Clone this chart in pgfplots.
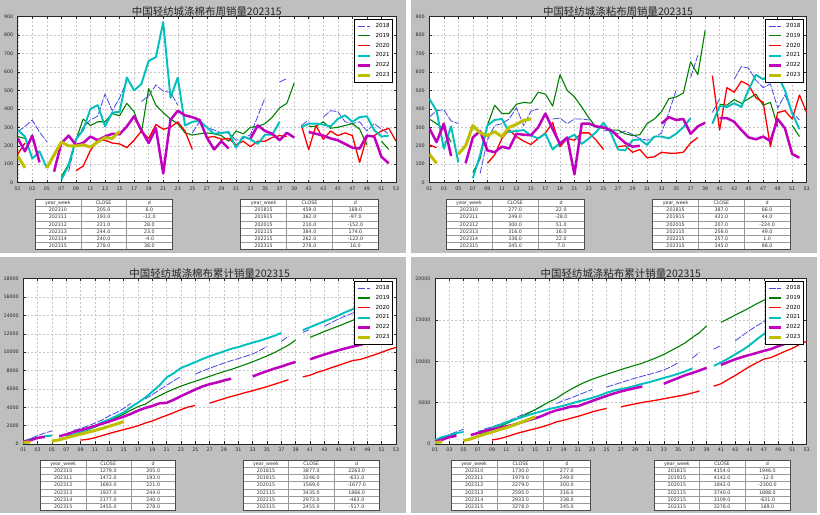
\documentclass[border=0pt]{standalone}
\usepackage{fontspec}
\setmainfont{DejaVu Sans}
\newfontfamily\cjk{Noto Sans CJK SC}
\usepackage{pgfplots}
\usepackage{pgfplotstable}
\pgfplotsset{compat=1.18}

\definecolor{bg}{RGB}{191,191,191}
\definecolor{c18}{RGB}{70,70,235}
\definecolor{c19}{RGB}{0,128,0}
\definecolor{c20}{RGB}{255,0,0}
\definecolor{c21}{RGB}{0,191,191}
\definecolor{c22}{RGB}{191,0,191}
\definecolor{c23}{RGB}{191,191,0}

% weekly sales, polyester-cotton
\pgfplotstableread{
w y18 y19 y20 y21 y22 y23
1 275 250 155 285 240 145
2 305 240 215 250 170 80
3 340 nan nan 130 255 nan
4 275 nan nan 170 110 nan
5 222 nan nan 80 nan 80
6 nan nan nan nan 60 150
7 nan 33 nan 15 215 220
8 60 100 nan 95 255 200
9 230 230 65 235 205 199
10 300 345 90 285 215 205
11 340 310 175 400 250 193
12 360 330 230 420 230 221
13 480 330 230 305 250 244
14 390 375 215 380 265 240
15 459 362 210 384 262 278
16 550 430 190 570 305 nan
17 nan 385 230 500 360 nan
18 440 270 280 535 285 nan
19 470 510 240 660 215 nan
20 530 420 315 680 295 nan
21 495 380 290 870 50 nan
22 490 345 300 460 340 nan
23 420 320 330 570 390 nan
24 nan 270 280 310 365 nan
25 270 258 180 330 355 nan
26 330 265 nan 335 340 nan
27 300 270 245 300 245 nan
28 285 265 250 265 180 nan
29 270 255 235 270 225 nan
30 270 225 240 275 185 nan
31 230 280 205 190 nan nan
32 240 265 225 250 nan nan
33 260 300 195 235 240 nan
34 360 305 225 210 310 nan
35 460 320 225 260 280 nan
36 nan 355 245 260 265 nan
37 545 405 255 330 230 nan
38 565 430 250 nan 270 nan
39 nan 540 nan nan 245 nan
40 310 nan 310 300 nan nan
41 340 305 180 320 275 nan
42 nan 305 310 320 265 nan
43 355 330 235 315 255 nan
44 390 295 280 305 240 nan
45 385 300 255 345 230 nan
46 330 310 270 365 210 nan
47 320 320 255 330 190 nan
48 330 290 110 355 185 nan
49 280 205 250 360 255 nan
50 320 nan 255 285 250 nan
51 290 225 280 250 140 nan
52 265 180 295 255 105 nan
53 nan nan 225 nan nan nan
}\tla

% weekly sales, polyester-viscose
\pgfplotstableread{
w y18 y19 y20 y21 y22 y23
1 355 345 205 455 295 155
2 390 320 190 390 220 105
3 395 290 nan 185 320 nan
4 335 220 nan 305 145 nan
5 320 nan nan 110 nan 155
6 nan nan nan nan 105 200
7 nan 55 nan 25 245 310
8 50 130 nan 150 280 270
9 230 310 105 310 175 255
10 310 420 150 340 165 277
11 320 375 240 345 195 249
12 345 375 285 275 185 300
13 405 425 250 280 265 316
14 310 435 225 285 260 338
15 387 431 207 256 257 345
16 400 490 240 240 300 nan
17 nan 480 270 265 375 nan
18 345 415 325 180 290 nan
19 350 585 195 215 210 nan
20 320 500 240 240 245 nan
21 345 465 230 260 45 nan
22 345 410 270 210 320 nan
23 340 350 270 240 320 nan
24 nan 300 230 275 305 nan
25 280 295 180 325 300 nan
26 285 285 nan 270 285 nan
27 265 285 195 180 250 nan
28 280 265 200 175 215 nan
29 260 255 165 230 195 nan
30 240 260 180 235 200 nan
31 230 320 135 205 nan nan
32 245 345 140 250 nan nan
33 270 385 165 250 320 nan
34 380 455 160 240 355 nan
35 500 465 160 265 340 nan
36 nan 485 165 300 345 nan
37 570 655 215 350 265 nan
38 690 585 245 nan 305 nan
39 nan 825 nan nan 325 nan
40 380 nan 580 320 nan nan
41 455 425 285 415 350 nan
42 nan 420 515 410 350 nan
43 560 450 490 430 330 nan
44 630 430 550 410 285 nan
45 620 455 530 505 245 nan
46 555 480 460 585 235 nan
47 515 420 435 560 250 nan
48 535 435 195 585 225 nan
49 405 305 380 585 345 nan
50 475 nan 390 500 295 nan
51 380 310 345 375 155 nan
52 340 250 475 290 135 nan
53 nan nan 380 nan nan nan
}\tra

% cumulative, polyester-cotton
\pgfplotstableread{
w y18 y19 y20 y21 y22 y23
1 275 250 155 285 240 145
2 580 490 370 535 410 225
3 920 nan nan 665 665 nan
4 1195 nan nan 835 775 nan
5 1417 nan nan 915 nan 305
6 nan nan nan nan 835 455
7 nan 864 nan 930 1050 675
8 1477 964 nan 1025 1305 875
9 1690 1194 420 1261 1510 1074
10 1960 1539 510 1546 1725 1279
11 2280 1849 685 1946 1975 1472
12 2620 2179 915 2366 2205 1693
13 3060 2509 1145 2671 2455 1937
14 3420 2884 1360 3051 2710 2177
15 3877 3246 1569 3435 2972 2455
16 4420 3676 1759 4005 3277 nan
17 nan 4061 1989 4505 3637 nan
18 4900 4331 2269 5040 3922 nan
19 5370 4841 2509 5700 4137 nan
20 5900 5261 2824 6380 4432 nan
21 6395 5641 3114 7250 4482 nan
22 6885 5986 3414 7710 4822 nan
23 7350 6306 3744 8280 5212 nan
24 nan 6576 4024 8590 5577 nan
25 7620 6834 4204 8920 5932 nan
26 7950 7099 nan 9255 6272 nan
27 8250 7369 4449 9555 6517 nan
28 8535 7634 4699 9820 6697 nan
29 8805 7889 4934 10090 6922 nan
30 9075 8114 5174 10365 7107 nan
31 9305 8394 5379 10555 nan nan
32 9545 8659 5604 10805 nan nan
33 9805 8959 5799 11040 7347 nan
34 10165 9264 6024 11250 7657 nan
35 10625 9584 6249 11510 7937 nan
36 nan 9939 6494 11770 8202 nan
37 11170 10344 6749 12100 8432 nan
38 11735 10774 6999 nan 8702 nan
39 nan 11314 nan nan 8947 nan
40 12150 nan 7309 12400 nan nan
41 12490 11619 7489 12720 9222 nan
42 nan 11924 7799 13040 9487 nan
43 12845 12254 8034 13355 9742 nan
44 13235 12549 8314 13660 9982 nan
45 13620 12849 8569 14005 10212 nan
46 13950 13159 8839 14370 10422 nan
47 14270 13479 9094 14700 10612 nan
48 14600 13769 9204 15055 10797 nan
49 14880 13974 9454 15415 11052 nan
50 15200 nan 9709 15700 11302 nan
51 15490 14199 9989 15950 11442 nan
52 15755 14379 10284 16205 11547 nan
53 nan nan 10509 nan nan nan
}\blc

% cumulative, polyester-viscose
\pgfplotstableread{
w y18 y19 y20 y21 y22 y23
1 355 345 205 455 295 155
2 745 665 395 845 515 260
3 1140 955 nan 1030 835 nan
4 1475 1175 nan 1335 980 nan
5 1795 nan nan 1445 nan 415
6 nan nan nan nan 1082 615
7 nan 1241 nan 1499 1327 925
8 1845 1371 nan 1649 1607 1198
9 2075 1681 485 1959 1782 1453
10 2385 2101 635 2299 1947 1730
11 2705 2476 875 2644 2142 1979
12 3050 2851 1160 2919 2327 2279
13 3455 3276 1410 3199 2592 2595
14 3767 3711 1635 3484 2852 2933
15 4154 4142 1842 3740 3109 3278
16 4554 4632 2082 3980 3409 nan
17 nan 5112 2352 4245 3784 nan
18 4899 5527 2677 4425 4074 nan
19 5249 6112 2872 4640 4284 nan
20 5569 6612 3112 4880 4529 nan
21 5914 7077 3342 5140 4574 nan
22 6259 7487 3612 5350 4894 nan
23 6599 7837 3882 5590 5214 nan
24 nan 8137 4112 5865 5519 nan
25 6879 8432 4292 6190 5819 nan
26 7164 8717 nan 6460 6104 nan
27 7429 9002 4487 6640 6354 nan
28 7709 9267 4687 6815 6569 nan
29 7969 9522 4852 7045 6764 nan
30 8209 9782 5032 7280 6964 nan
31 8439 10102 5167 7485 nan nan
32 8684 10447 5307 7735 nan nan
33 8954 10832 5472 7985 7284 nan
34 9334 11287 5632 8225 7639 nan
35 9834 11752 5792 8490 7979 nan
36 nan 12237 5957 8790 8324 nan
37 10404 12892 6172 9140 8589 nan
38 11094 13477 6417 nan 8894 nan
39 nan 14302 nan nan 9219 nan
40 11474 nan 6997 9460 nan nan
41 11929 14727 7282 9875 9569 nan
42 nan 15147 7797 10330 9919 nan
43 12489 15597 8287 10850 10249 nan
44 13119 16027 8837 11350 10534 nan
45 13739 16482 9367 11950 10779 nan
46 14294 16962 9827 12650 11014 nan
47 14809 17382 10262 13300 11264 nan
48 15344 17817 10457 13950 11489 nan
49 15749 18122 10837 14550 11834 nan
50 16224 nan 11227 15050 12129 nan
51 16604 18432 11572 15400 12284 nan
52 16944 18682 12047 15700 12419 nan
53 nan nan 12427 nan nan nan
}\brc

\pgfplotsset{
  panel/.style={
    scale only axis,
    xmin=1, xmax=53,
    xtick={1,3,...,53},
    xticklabels={01,03,05,07,09,11,13,15,17,19,21,23,25,27,29,31,33,35,37,39,41,43,45,47,49,51,53},
    axis background/.style={fill=white},
    axis line style={black!85, line width=0.7bp},
    grid=major,
    grid style={black!22, line width=0.4bp, dash pattern=on 2bp off 2bp},
    tick align=inside,
    major tick length=2.5bp,
    tick style={black!85, line width=0.5bp},
    tick label style={font=\fontsize{4.8}{5}\selectfont, text=black!85},
    xticklabel style={yshift=-0.8bp},
    yticklabel style={xshift=-1bp},
    /pgf/number format/assume math mode=true,
    /pgf/number format/1000 sep={},
    scaled y ticks=false,
    unbounded coords=jump,
    every axis title shift=0pt,
    title style={font=\cjk\fontsize{10.5}{12}\selectfont, at={(0.5,1)},
      anchor=base, yshift=1.4bp, inner sep=0pt, text=black!85},
    legend style={at={(1,1)}, anchor=north east, xshift=-3bp, yshift=-2.4bp,
      font=\fontsize{5.6}{6}\selectfont, draw=black, line width=0.6bp,
      inner xsep=2bp, inner ysep=1.85bp, column sep=3bp,
      nodes={inner xsep=1bp, inner ysep=2.1bp}},
    legend cell align=left,
    legend image code/.code={\draw[##1] (0bp,0bp) -- (12bp,0bp);},
  },
  s18/.style={c18, line width=0.8bp, dash pattern=on 7bp off 1.5bp},
  s19/.style={c19, line width=1.1bp, line join=round},
  s20/.style={c20, line width=1.3bp, line join=round},
  s21/.style={c21, line width=1.9bp, line join=round},
  s22/.style={c22, line width=2.5bp, line join=round},
  s23/.style={c23, line width=3bp, line join=round},
}

% #1 left, #2 top, #3 width, #4 rows
\newcommand{\datatable}[4]{%
  \begin{scope}[shift={(#1,#2)}]
    \pgfmathsetmacro{\cw}{#3/3}
    \fill[white] (0,0) rectangle (#3,-50.4);
    \foreach \i in {1,...,6} {\draw[black!40, line width=0.4bp] (0,-7.2*\i) -- (#3,-7.2*\i);}
    \draw[black!40, line width=0.4bp] (\cw,0) -- (\cw,-50.4) (2*\cw,0) -- (2*\cw,-50.4);
    \draw[black!70, line width=0.5bp] (0,0) rectangle (#3,-50.4);
    \begin{scope}[every node/.style={anchor=base, inner sep=0pt, text=black!80,
        font=\fontsize{4.8}{5}\selectfont}]
      \node at ({0.5*\cw},-5.3) {year\_week};
      \node at ({1.5*\cw},-5.3) {CLOSE};
      \node at ({2.5*\cw},-5.3) {d};
      \foreach \a/\b/\c [count=\r] in {#4} {
        \node at ({0.5*\cw},{-5.3-7.2*\r}) {\a};
        \node at ({1.5*\cw},{-5.3-7.2*\r}) {\b};
        \node at ({2.5*\cw},{-5.3-7.2*\r}) {\c};
      }
    \end{scope}
  \end{scope}}

\newcommand{\allplots}[1]{%
  \addplot[s18] table[x=w, y=y18] {#1};
  \addplot[s19] table[x=w, y=y19] {#1};
  \addplot[s20] table[x=w, y=y20] {#1};
  \addplot[s21] table[x=w, y=y21] {#1};
  \addplot[s22] table[x=w, y=y22] {#1};
  \addplot[s23] table[x=w, y=y23] {#1};
  \legend{2018,2019,2020,2021,2022,2023}}

\begin{document}
\begin{tikzpicture}[x=1bp, y=1bp]
\fill[white] (0,0) rectangle (820,515);
\fill[bg] (0,261.5) rectangle (405.5,515);
\fill[bg] (411,261.5) rectangle (817,515);
\fill[bg] (0,2) rectangle (405.5,258);
\fill[bg] (411,2) rectangle (817,258);

\begin{axis}[panel, at={(17.7bp,332.3bp)}, anchor=south west,
  width=378.3bp, height=166.1bp,
  ymin=0, ymax=900, ytick={0,100,...,900},
  title={中国轻纺城涤棉布周销量202315}]
\allplots{\tla}
\end{axis}

\begin{axis}[panel, at={(429.3bp,332.3bp)}, anchor=south west,
  width=377.4bp, height=166.1bp,
  ymin=0, ymax=900, ytick={0,100,...,900},
  title={中国轻纺城涤粘布周销量202315}]
\allplots{\tra}
\end{axis}

\begin{axis}[panel, at={(23.3bp,71bp)}, anchor=south west,
  width=372.7bp, height=165.3bp,
  ymin=0, ymax=18000, ytick={0,2000,...,18000},
  title={中国轻纺城涤棉布累计销量202315}]
\allplots{\blc}
\end{axis}

\begin{axis}[panel, at={(435bp,71bp)}, anchor=south west,
  width=371.7bp, height=165.3bp,
  ymin=0, ymax=20000, ytick={0,5000,...,20000},
  title={中国轻纺城涤粘布累计销量202315}]
\allplots{\brc}
\end{axis}

\datatable{35}{315.7}{137.3}{202310/205.0/6.0, 202311/193.0/-12.0, 202312/221.0/28.0, 202313/244.0/23.0, 202314/240.0/-4.0, 202315/278.0/38.0}
\datatable{240.7}{315.7}{137.6}{201815/459.0/169.0, 201915/362.0/-97.0, 202015/210.0/-152.0, 202115/384.0/174.0, 202215/262.0/-122.0, 202315/278.0/16.0}
\datatable{446}{315.7}{138.3}{202310/277.0/22.0, 202311/249.0/-28.0, 202312/300.0/51.0, 202313/316.0/16.0, 202314/338.0/22.0, 202315/345.0/7.0}
\datatable{652.7}{315.7}{137.3}{201815/387.0/66.0, 201915/431.0/44.0, 202015/207.0/-224.0, 202115/256.0/49.0, 202215/257.0/1.0, 202315/345.0/88.0}
\datatable{40.7}{55}{135}{202310/1279.0/205.0, 202311/1472.0/193.0, 202312/1693.0/221.0, 202313/1937.0/244.0, 202314/2177.0/240.0, 202315/2455.0/278.0}
\datatable{243.3}{55}{136}{201815/3877.0/2263.0, 201915/3246.0/-631.0, 202015/1569.0/-1677.0, 202115/3435.0/1866.0, 202215/2972.0/-463.0, 202315/2455.0/-517.0}
\datatable{451}{55}{139}{202310/1730.0/277.0, 202311/1979.0/249.0, 202312/2279.0/300.0, 202313/2595.0/316.0, 202314/2933.0/338.0, 202315/3278.0/345.0}
\datatable{654.3}{55}{135.7}{201815/4154.0/1946.0, 201915/4142.0/-12.0, 202015/1842.0/-2300.0, 202115/3740.0/1898.0, 202215/3109.0/-631.0, 202315/3278.0/169.0}

\pgfresetboundingbox
\path[use as bounding box] (0,0) rectangle (820,515);
\end{tikzpicture}
\end{document}
